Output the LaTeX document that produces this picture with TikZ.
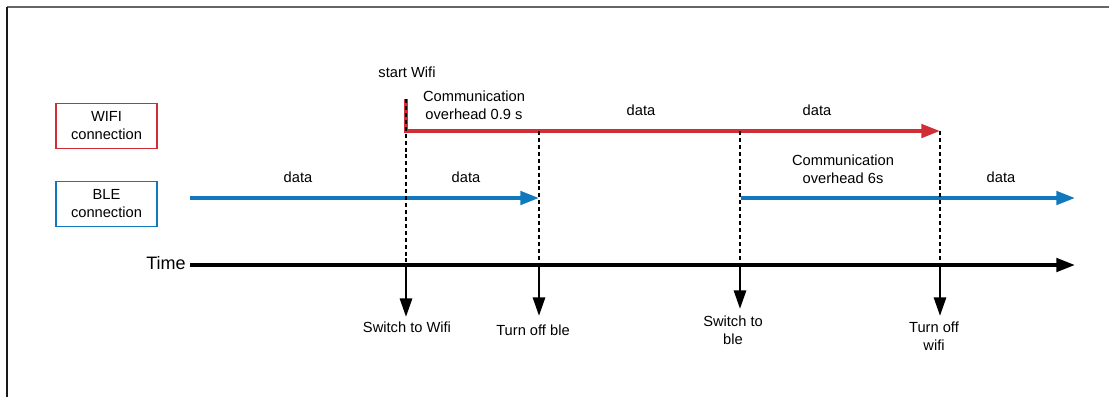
\documentclass[tikz,border=0pt]{standalone}
\usepackage{fontspec}
\setmainfont{Liberation Sans}
\usetikzlibrary{arrows.meta}
\definecolor{wifired}{RGB}{208,45,55}
\definecolor{bleblue}{RGB}{16,121,189}
\begin{document}
\begin{tikzpicture}[x=0.75pt,y=-0.75pt,
  font=\fontsize{11}{13.5}\selectfont,
  conbox/.style={draw, line width=1pt, minimum width=75.75pt, minimum height=33.75pt,
                 inner sep=0pt, align=center, fill=white},
  lbl/.style={align=center, inner sep=0pt},
  wifiline/.style={wifired, line width=2.8pt, -{Triangle[length=14pt,width=10pt]}},
  bleline/.style={bleblue, line width=2.8pt, -{Triangle[length=14pt,width=10pt]}},
  timeline/.style={black, line width=2.8pt, -{Triangle[length=14pt,width=10pt]}},
  eventarrow/.style={black, line width=2.2pt, -{Triangle[length=14pt,width=9pt]}},
  guide/.style={black, line width=1pt, dash pattern=on 3pt off 2.2pt}
]
\useasboundingbox (0,0) rectangle (1109,397);
% frame
\draw[black!60, line width=0.9pt] (7,7) -- (1109,7);
\draw[black!90, line width=0.9pt] (7,7) -- (7,397);

% legend boxes
\node[conbox, draw=wifired] (wbox) at (106.5,126) {WIFI\\connection};
\node[conbox, draw=bleblue] (bbox) at (106.5,204) {BLE\\connection};

% key points on the time axis
\coordinate (t0) at (190,265);
\coordinate (tEnd) at (1075,265);
\coordinate (ta) at (406,265);
\coordinate (tb) at (539,265);
\coordinate (tc) at (740,265);
\coordinate (td) at (940,265);

% wifi track
\coordinate (wTop) at (406,99);
\coordinate (wCorner) at (406,131);
\coordinate (wEnd) at (940,131);
\coordinate (wb) at (539,131);
\coordinate (wc) at (740,131);

% ble track
\coordinate (b0) at (190,198);
\coordinate (bMid) at (365,198);
\coordinate (b1) at (539,198);
\coordinate (b2) at (741,198);
\coordinate (b3) at (1075,198);

% tracks
\draw[wifiline] (wTop) -- (wCorner) -- (wEnd);
\draw[bleblue, line width=2.8pt] (b0) -- (bMid);
\draw[bleline] (bMid) -- (b1);
\draw[bleline] (b2) -- (b3);
\draw[timeline] (t0) -- (tEnd);

% guides
\draw[guide] (wTop) -- (ta);
\draw[guide] (wb) -- (tb);
\draw[guide] (wc) -- (tc);
\draw[guide] (wEnd) -- (td);

% events
\coordinate (ea) at (406,317);
\coordinate (eb) at (539,316);
\coordinate (ec) at (740,309);
\coordinate (ed) at (940,316);
\draw[eventarrow] (ta) -- (ea);
\draw[eventarrow] (tb) -- (eb);
\draw[eventarrow] (tc) -- (ec);
\draw[eventarrow] (td) -- (ed);

% labels
\node[lbl, font=\fontsize{13.5}{16}\selectfont, anchor=east] (timelbl) at (186,263) {Time};
\node[lbl] (startw) at (407,72) {start Wifi};
\node[lbl] (ovh1) at (474,105) {Communication\\overhead 0.9 s};
\node[lbl] (wd1) at (641,110) {data};
\node[lbl] (wd2) at (817,110) {data};
\node[lbl] (bd1) at (298,177) {data};
\node[lbl] (bd2) at (466,177) {data};
\node[lbl] (ovh2) at (843,169) {Communication\\overhead 6s};
\node[lbl] (bd3) at (1001,177) {data};
\node[lbl] (la) at (407,327) {Switch to Wifi};
\node[lbl] (lb) at (533,330) {Turn off ble};
\node[lbl] (lc) at (733,330) {Switch to\\ble};
\node[lbl] (ld) at (934,336) {Turn off\\wifi};
\end{tikzpicture}
\end{document}
